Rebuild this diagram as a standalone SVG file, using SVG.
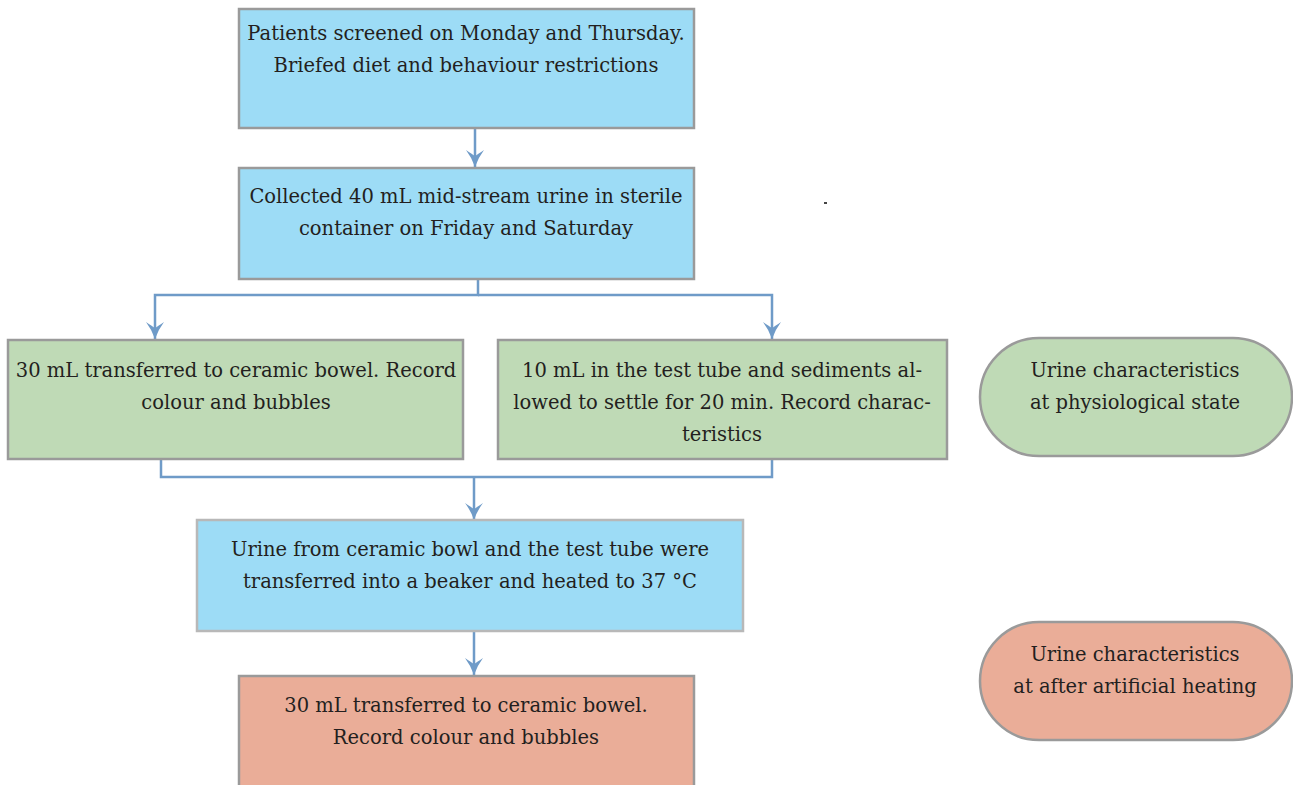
<svg xmlns="http://www.w3.org/2000/svg" width="1293" height="785" viewBox="0 0 1293 785">
<style>
.box{stroke:#9a9a9a;stroke-width:2.5}
.blue{fill:#9ddcf6}
.green{fill:#bfdab6}
.red{fill:#eaad98}
.t{font-family:'DejaVu Serif','Liberation Serif',serif;font-size:19.5px;fill:#231f20;text-anchor:middle}
.c{fill:none;stroke:#6f9bc8;stroke-width:2.5}
</style>
<defs>
<marker id="ah" markerUnits="userSpaceOnUse" markerWidth="22" markerHeight="22" viewBox="-19 -11 22 22" refX="0" refY="0" orient="auto">
<path d="M0,0 Q-9,-3 -17,-9 Q-13,-3 -11,0 Q-13,3 -17,9 Q-9,3 0,0Z" fill="#6f9bc8"/>
</marker>
</defs>
<g id="connectors">
<path class="c" d="M475,128 V167" marker-end="url(#ah)"/>
<path class="c" d="M478,279 V295 H155 V339" marker-end="url(#ah)"/>
<path class="c" d="M478,295 H772 V339" marker-end="url(#ah)"/>
<path class="c" d="M161,459 V477 H772 V459"/>
<path class="c" d="M474,477 V520" marker-end="url(#ah)"/>
<path class="c" d="M474,631 V675" marker-end="url(#ah)"/>
</g>
<g id="n1"><rect class="box blue" x="239" y="9" width="455" height="119"/>
<text class="t" x="466" y="40">Patients screened on Monday and Thursday.</text>
<text class="t" x="466" y="72">Briefed diet and behaviour restrictions</text></g>
<g id="n2"><rect class="box blue" x="239" y="168" width="455" height="111"/>
<text class="t" x="466" y="203">Collected 40 mL mid-stream urine in sterile</text>
<text class="t" x="466" y="235">container on Friday and Saturday</text></g>
<g id="n3"><rect class="box green" x="8" y="340" width="455" height="119"/>
<text class="t" x="236" y="377">30 mL transferred to ceramic bowel. Record</text>
<text class="t" x="236" y="409">colour and bubbles</text></g>
<g id="n4"><rect class="box green" x="498" y="340" width="449" height="119"/>
<text class="t" x="722" y="377">10 mL in the test tube and sediments al-</text>
<text class="t" x="722" y="409">lowed to settle for 20 min. Record charac-</text>
<text class="t" x="722" y="441">teristics</text></g>
<g id="n5"><rect class="box" style="stroke:#b8b8b8" fill="#9ddcf6" x="197" y="520" width="546" height="111"/>
<text class="t" x="470" y="556">Urine from ceramic bowl and the test tube were</text>
<text class="t" x="470" y="588">transferred into a beaker and heated to 37 °C</text></g>
<g id="n6"><rect class="box red" x="239" y="676" width="455" height="120"/>
<text class="t" x="466" y="712">30 mL transferred to ceramic bowel.</text>
<text class="t" x="466" y="744">Record colour and bubbles</text></g>
<g id="p1"><rect class="box green" x="980" y="338" width="312" height="118" rx="59"/>
<text class="t" x="1135" y="377">Urine characteristics</text>
<text class="t" x="1135" y="409">at physiological state</text></g>
<g id="p2"><rect class="box red" x="980" y="622" width="312" height="118" rx="59"/>
<text class="t" x="1135" y="661">Urine characteristics</text>
<text class="t" x="1135" y="693">at after artificial heating</text></g>
<rect x="824" y="202" width="3" height="2" fill="#444"/>
</svg>
